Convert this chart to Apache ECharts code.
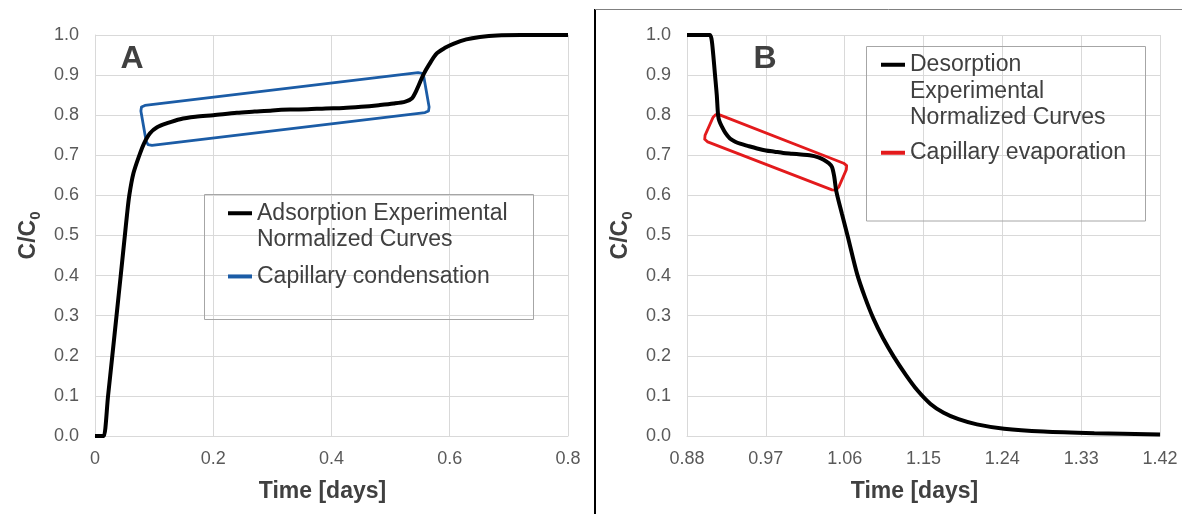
<!DOCTYPE html>
<html><head><meta charset="utf-8">
<script src="https://cdn.jsdelivr.net/npm/echarts@6/dist/echarts.min.js"></script>
<style>html,body{margin:0;padding:0;background:#fff}#chart{width:1182px;height:514px}</style>
</head><body><div id="chart"></div>
<script>
// ---- Data ----
const adsX = [0, 0.013, 0.015, 0.0221, 0.0293, 0.0364, 0.0435, 0.0505, 0.054, 0.058, 0.065, 0.075, 0.083, 0.093, 0.105, 0.122, 0.144, 0.170, 0.2, 0.24, 0.27, 0.3, 0.33, 0.36, 0.39, 0.42, 0.45, 0.48, 0.505, 0.525, 0.536, 0.545, 0.555, 0.565, 0.578, 0.592, 0.606, 0.628, 0.651, 0.68, 0.72, 0.76, 0.8];
const adsY = [0, 0, 0.0, 0.1, 0.2, 0.3, 0.4, 0.5, 0.55, 0.6, 0.655, 0.7, 0.73, 0.755, 0.77, 0.78, 0.79, 0.796, 0.8, 0.806, 0.809, 0.812, 0.814, 0.815, 0.817, 0.818, 0.821, 0.825, 0.829, 0.834, 0.842, 0.866, 0.9, 0.926, 0.954, 0.968, 0.978, 0.989, 0.995, 0.999, 1, 1, 1];

// capillary condensation box outline (rounded corners)
const condX = [0.0776, 0.0865, 0.0897, 0.0964, 0.5582, 0.5641, 0.5651, 0.5562, 0.5530, 0.5464, 0.0845, 0.0786, 0.0776];
const condY = [0.8106, 0.7355, 0.7266, 0.7247, 0.8065, 0.8107, 0.8202, 0.8954, 0.9043, 0.9062, 0.8244, 0.8203, 0.8106];

const desX = [0.88, 0.895, 0.906, 0.908, 0.910, 0.912, 0.914, 0.9155, 0.917, 0.9197, 0.924, 0.929, 0.935, 0.9406, 0.95, 0.96, 0.97, 0.98, 0.99, 1.0, 1.01, 1.02, 1.03, 1.036, 1.042, 1.0455, 1.048, 1.0505, 1.057, 1.0636, 1.0741, 1.083, 1.093, 1.104, 1.116, 1.13, 1.143, 1.158, 1.173, 1.19, 1.211, 1.242, 1.287, 1.345, 1.42];
const desY = [1, 1, 1, 0.99, 0.95, 0.9, 0.85, 0.8, 0.785, 0.772, 0.755, 0.742, 0.734, 0.729, 0.723, 0.717, 0.712, 0.709, 0.706, 0.704, 0.702, 0.7, 0.695, 0.689, 0.68, 0.671, 0.648, 0.61, 0.553, 0.497, 0.405, 0.347, 0.292, 0.243, 0.198, 0.152, 0.114, 0.08, 0.058, 0.042, 0.029, 0.018, 0.011, 0.007, 0.004];

// capillary evaporation box outline (rounded corners)
const evapX = [0.9096, 0.9006, 0.9002, 0.9036, 1.0456, 1.0501, 1.0532, 1.0619, 1.0623, 1.0588, 0.9173, 0.9127, 0.9096];
const evapY = [0.7941, 0.7496, 0.7399, 0.7336, 0.6137, 0.6132, 0.6206, 0.6644, 0.6741, 0.6803, 0.8009, 0.8015, 0.7941];

const ADS_NAME = 'Adsorption Experimental\nNormalized Curves';
const COND_NAME = 'Capillary condensation';
const DES_NAME = 'Desorption\nExperimental\nNormalized Curves';
const EVAP_NAME = 'Capillary evaporation';

const xRangeA = {min: 0, max: 0.8, interval: 0.2};
const xRangeB = {min: 0.88, max: 1.42, interval: 0.09};
const yRange = {min: 0, max: 1, interval: 0.1};

const panelLabels = ['A', 'B'];
const xTitle = 'Time [days]';
const yTitle = '{a|C/C}{b|0}';

// ---- Styling ----
const FONT = 'Liberation Sans, Arial, sans-serif';
const GRID_C = '#d9d9d9';
const TXT = '#404040';

function pairs(xs, ys) { return xs.map((x, i) => [x, ys[i]]); }

function xAxis(gi, r, fmt) {
  return {
    type: 'value', gridIndex: gi, min: r.min, max: r.max, interval: r.interval,
    axisLine: {lineStyle: {color: GRID_C}}, axisTick: {show: false},
    splitLine: {show: true, lineStyle: {color: GRID_C, width: 1}},
    axisLabel: {fontSize: 18, color: '#595959', margin: 14, fontFamily: FONT, formatter: fmt, showMinLabel: true, showMaxLabel: true},
    name: xTitle, nameLocation: 'middle', nameGap: 44,
    nameTextStyle: {fontSize: 23, fontWeight: 'bold', color: TXT, fontFamily: FONT, padding: [0, 18, 0, 0]}
  };
}
function yAxis(gi) {
  return {
    type: 'value', gridIndex: gi, min: yRange.min, max: yRange.max, interval: yRange.interval,
    axisLine: {show: true, lineStyle: {color: GRID_C}}, axisTick: {show: false},
    splitLine: {show: true, lineStyle: {color: GRID_C, width: 1}},
    axisLabel: {fontSize: 18, color: '#595959', margin: 16, fontFamily: FONT, formatter: v => v.toFixed(1)},
    name: yTitle, nameLocation: 'middle', nameGap: 52,
    nameTextStyle: {
      rich: {
        a: {fontSize: 23, fontWeight: 'bold', color: TXT, fontFamily: FONT, lineHeight: 28},
        b: {fontSize: 15, fontWeight: 'bold', color: TXT, fontFamily: FONT, lineHeight: 15, verticalAlign: 'bottom'}
      }
    }
  };
}

const legendText = {fontSize: 23, color: TXT, lineHeight: 26.5, fontFamily: FONT};

const option = {
  animation: false,
  backgroundColor: '#fff',
  textStyle: {fontFamily: FONT},
  grid: [
    {left: 95, top: 35, width: 473, height: 401},
    {left: 687, top: 35, width: 473, height: 401}
  ],
  xAxis: [
    xAxis(0, xRangeA, v => (v === 0 ? '0' : String(+v.toFixed(1)))),
    xAxis(1, xRangeB, v => v.toFixed(2))
  ],
  yAxis: [yAxis(0), yAxis(1)],
  legend: [
    {
      left: 228, top: 200, orient: 'vertical', padding: 0, itemWidth: 24, itemHeight: 30.5, itemGap: 10.2,
      selectedMode: false, textStyle: legendText, itemStyle: {borderWidth: 0},
      data: [
        {name: ADS_NAME, icon: 'path://M0,0H24V4H0Z M0,30.5H0.01V30.51H0Z'},
        {name: COND_NAME, icon: 'path://M0,0H24V4H0Z'}
      ]
    },
    {
      left: 881, top: 51.5, orient: 'vertical', padding: 0, itemWidth: 24, itemHeight: 57, itemGap: 8.5,
      selectedMode: false, textStyle: legendText, itemStyle: {borderWidth: 0},
      data: [
        {name: DES_NAME, icon: 'path://M0,0H24V4H0Z M0,57H0.01V57.01H0Z'},
        {name: EVAP_NAME, icon: 'path://M0,0H24V4H0Z'}
      ]
    }
  ],
  series: [
    {name: COND_NAME, type: 'line', xAxisIndex: 0, yAxisIndex: 0, data: pairs(condX, condY), symbol: 'none', clip: false,
     color: '#1b5ca6', lineStyle: {width: 2.8, color: '#1b5ca6', join: 'round', cap: 'round'}, z: 2},
    {name: ADS_NAME, type: 'line', xAxisIndex: 0, yAxisIndex: 0, data: pairs(adsX, adsY), symbol: 'none', clip: false, smooth: 0.3,
     color: '#000', lineStyle: {width: 4, color: '#000'}, z: 3},
    {name: EVAP_NAME, type: 'line', xAxisIndex: 1, yAxisIndex: 1, data: pairs(evapX, evapY), symbol: 'none', clip: false,
     color: '#e31a1c', lineStyle: {width: 2.8, color: '#e31a1c', join: 'round', cap: 'round'}, z: 2},
    {name: DES_NAME, type: 'line', xAxisIndex: 1, yAxisIndex: 1, data: pairs(desX, desY), symbol: 'none', clip: false, smooth: 0.3,
     color: '#000', lineStyle: {width: 4, color: '#000'}, z: 3}
  ],
  graphic: [
    {type: 'rect', silent: true, z: 50, shape: {x: 204.5, y: 194.5, width: 329, height: 125}, style: {fill: 'none', stroke: '#a6a6a6', lineWidth: 1}},
    {type: 'rect', silent: true, z: 50, shape: {x: 866.5, y: 46.5, width: 279, height: 174.5}, style: {fill: 'none', stroke: '#a6a6a6', lineWidth: 1}},
    {type: 'text', silent: true, z: 100, x: 132, y: 59, style: {text: panelLabels[0], fontSize: 32, fontWeight: 'bold', fontFamily: FONT, fill: TXT, align: 'center', verticalAlign: 'middle', textAlign: 'center', textVerticalAlign: 'middle'}},
    {type: 'text', silent: true, z: 100, x: 765, y: 59, style: {text: panelLabels[1], fontSize: 32, fontWeight: 'bold', fontFamily: FONT, fill: TXT, align: 'center', verticalAlign: 'middle', textAlign: 'center', textVerticalAlign: 'middle'}},
    {type: 'line', silent: true, z: 100, shape: {x1: 595, y1: 9, x2: 595, y2: 514}, style: {stroke: '#000', lineWidth: 2}},
    {type: 'line', silent: true, z: 100, shape: {x1: 595, y1: 9.5, x2: 1182, y2: 9.5}, style: {stroke: '#808080', lineWidth: 1}}
  ]
};

const chart = echarts.init(document.getElementById('chart'), null, {renderer: 'canvas'});
chart.setOption(option);
</script></body></html>
